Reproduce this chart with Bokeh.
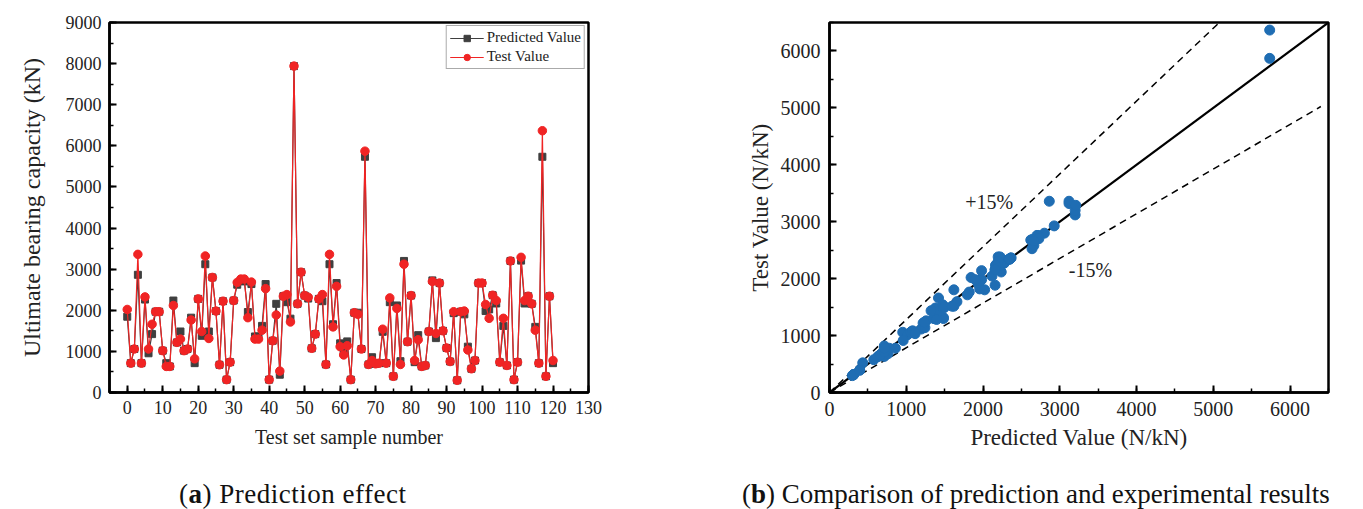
from bokeh.plotting import figure
from bokeh.models import Range1d, SingleIntervalTicker, Label, Div, Legend, LegendItem
from bokeh.layouts import row, column
from bokeh.embed import file_html
from bokeh.resources import INLINE

# ---------------- data ----------------
sample_no = list(range(0, 121))
predicted = [1844, 714, 1058, 2863, 714, 2261, 954, 1420, 1965, 1965,
             1018, 714, 634, 2237, 1219, 1484, 1018, 1058, 1820, 714,
             2277, 1379, 3120, 1484, 2799, 1981, 674, 2221, 313, 738,
             2237, 2622, 2718, 2702, 1957, 2638, 1363, 1363, 1620, 2638,
             313, 1259, 2157, 433, 2342, 2197, 1796, 7939, 2157, 2927,
             2358, 2285, 1075, 1420, 2277, 2221, 682, 3120, 1660, 2662,
             1195, 960, 1243, 313, 1941, 1941, 1058, 5734, 682, 858,
             698, 714, 1476, 714, 2197, 393, 2117, 762, 3200, 1235,
             2358, 738, 1395, 634, 658, 1484, 2727, 1323, 2662, 1500,
             1083, 754, 1930, 297, 1965, 1901, 1115, 577, 778, 2662,
             2662, 1981, 2021, 2366, 2165, 738, 1620, 658, 3200, 313,
             738, 3208, 2165, 2342, 2157, 1596, 714, 5734, 393, 2342, 714]
test = [2020, 714, 1058, 3360, 714, 2325, 1058, 1660, 1965, 1965,
        1018, 634, 634, 2117, 1219, 1299, 1018, 1058, 1764, 818,
        2277, 1484, 3320, 1315, 2799, 1981, 674, 2221, 313, 738,
        2237, 2678, 2759, 2759, 1820, 2686, 1299, 1299, 1516, 2526,
        313, 1259, 1885, 521, 2342, 2382, 1716, 7939, 2157, 2927,
        2358, 2317, 1075, 1420, 2277, 2382, 682, 3360, 1596, 2582,
        1115, 914, 1139, 313, 1941, 1901, 1058, 5870, 682, 778,
        698, 714, 1540, 714, 2301, 393, 2045, 682, 3120, 1235,
        2358, 778, 1283, 634, 658, 1484, 2702, 1436, 2662, 1500,
        1083, 754, 1965, 297, 1965, 1981, 1034, 577, 778, 2662,
        2662, 2141, 1804, 2366, 2237, 738, 1804, 658, 3200, 313,
        738, 3288, 2237, 2342, 2157, 1516, 714, 6367, 393, 2342, 778]

# reference lines of panel (b): slope and x end
ref_slopes = [1.0, 1.28, 0.785]
ref_x_end = [6500, 5078, 6400]
band_labels = ["+15%", "-15%"]
band_label_x = [2080, 3400]
band_label_y = [3350, 2150]

SERIF = "Liberation Serif"


def style_axes(p, xint, yint, tick_fs, label_fs, xl_standoff, yl_standoff, tick_standoff):
    p.xaxis.ticker = SingleIntervalTicker(interval=xint, num_minor_ticks=2)
    p.yaxis.ticker = SingleIntervalTicker(interval=yint, num_minor_ticks=2)
    for ax in (p.xaxis[0], p.yaxis[0]):
        ax.axis_line_width = 2.5
        ax.axis_line_color = "black"
        ax.major_tick_in = 7
        ax.major_tick_out = 0
        ax.minor_tick_in = 4
        ax.minor_tick_out = 0
        ax.major_tick_line_width = 2
        ax.minor_tick_line_width = 1.5
        ax.major_tick_line_color = "black"
        ax.minor_tick_line_color = "black"
        ax.major_label_text_font = SERIF
        ax.major_label_text_font_size = tick_fs
        ax.major_label_text_color = "#222222"
        ax.axis_label_text_font = SERIF
        ax.axis_label_text_font_size = label_fs
        ax.axis_label_text_font_style = "normal"
        ax.axis_label_text_color = "#222222"
        ax.major_label_standoff = tick_standoff
    p.xaxis.axis_label_standoff = xl_standoff
    p.yaxis.axis_label_standoff = yl_standoff
    p.xgrid.visible = False
    p.ygrid.visible = False
    p.outline_line_color = "black"
    p.outline_line_width = 2.5
    p.outline_line_alpha = 1.0


# ---------------- panel (a) ----------------
p1 = figure(width=700, height=460, x_range=Range1d(-5, 130), y_range=Range1d(0, 9000),
            output_backend="svg", toolbar_location=None,
            min_border_left=109, min_border_right=112, min_border_top=20, min_border_bottom=66,
            background_fill_color="white", border_fill_color="white")
p1.xaxis.axis_label = "Test set sample number"
p1.yaxis.axis_label = "Ultimate bearing capacity (kN)"
style_axes(p1, 10, 1000, "18px", "20px", 9, 18, 8)
p1.yaxis.axis_label_text_font_size = "24px"

GRAY = "#3f3f3f"
RED = "#f02424"
l_pred = p1.line(sample_no, predicted, line_color=GRAY, line_width=1.2)
m_pred = p1.scatter(sample_no, predicted, marker="square", size=7, fill_color=GRAY, line_color=GRAY)
l_test = p1.line(sample_no, test, line_color=RED, line_width=1.2)
m_test = p1.scatter(sample_no, test, marker="circle", size=8.5, fill_color=RED, line_color=RED)

legend = Legend(items=[LegendItem(label="Predicted Value", renderers=[l_pred, m_pred]),
                       LegendItem(label="Test Value", renderers=[l_test, m_test])],
                location="top_right")
legend.label_text_font = SERIF
legend.label_text_font_size = "15px"
legend.label_text_color = "#222222"
legend.glyph_width = 34
legend.glyph_height = 16
legend.label_height = 16
legend.label_standoff = 3
legend.spacing = 2
legend.padding = 3
legend.margin = 3
legend.border_line_color = "#555555"
legend.border_line_width = 1
legend.background_fill_alpha = 1
p1.add_layout(legend)

# ---------------- panel (b) ----------------
p2 = figure(width=663, height=460, x_range=Range1d(0, 6500), y_range=Range1d(0, 6500),
            output_backend="svg", toolbar_location=None,
            min_border_left=129, min_border_right=35, min_border_top=22, min_border_bottom=68,
            background_fill_color="white", border_fill_color="white")
p2.xaxis.axis_label = "Predicted Value (N/kN)"
p2.yaxis.axis_label = "Test Value (N/kN)"
style_axes(p2, 1000, 1000, "20px", "23px", 6, 5, 9)

for s, xe in zip(ref_slopes, ref_x_end):
    xs = [0, xe]
    ys = [0, xe * s]
    if s == 1.0:
        p2.line(xs, ys, line_color="black", line_width=2.2)
    else:
        p2.line(xs, ys, line_color="black", line_width=1.5, line_dash="7 5")

p2.scatter(predicted, test, marker="circle", size=10, fill_color="#1f6db3", line_color="#1f6db3")

for t, lx, ly in zip(band_labels, band_label_x, band_label_y):
    p2.add_layout(Label(x=lx, y=ly, text=t, text_font=SERIF, text_font_size="20px",
                        text_color="#222222", text_align="center", text_baseline="middle"))

# ---------------- captions ----------------
cap_style = ("font-family:'Liberation Serif';font-size:27px;color:#111;"
             "white-space:nowrap;position:absolute;top:10px;")
d1 = Div(text=f'<div style="{cap_style}letter-spacing:0.5px;left:174px">(<b>a</b>) Prediction effect</div>',
         width=700, height=49)
d2 = Div(text=f'<div style="{cap_style}left:27px">(<b>b</b>) Comparison of prediction and experimental results</div>',
         width=663, height=49)

layout = column(row(p1, p2), row(d1, d2))

open("out.html", "w").write(file_html(layout, INLINE))
